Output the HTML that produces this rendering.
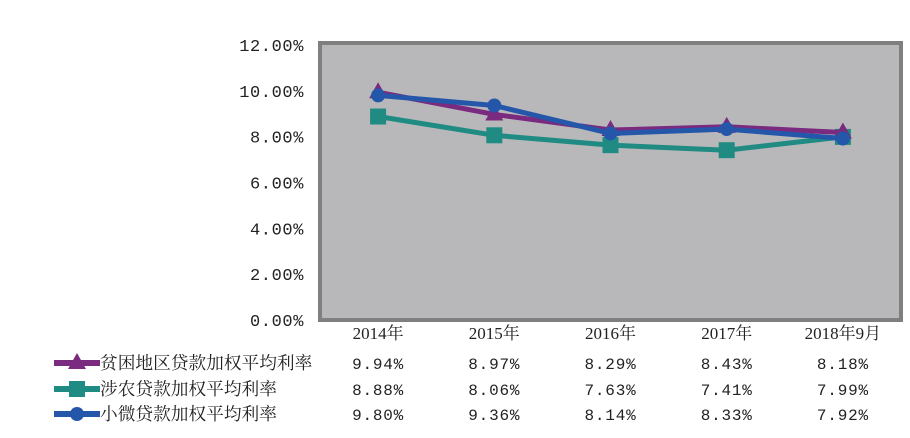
<!DOCTYPE html>
<html><head><meta charset="utf-8"><style>
body{margin:0;background:#fff;width:910px;height:433px;overflow:hidden}
svg text{font-family:"Liberation Serif","Noto Serif CJK SC",serif;fill:#222}
svg text.num{font-family:"Liberation Mono","Noto Serif CJK SC",monospace}
</style></head><body>
<svg width="910" height="433">
<g id="axis"></g><g id="plot"></g><g id="table"></g>
</svg>
<script>
const categories=["2014年","2015年","2016年","2017年","2018年9月"];
const seriesNames=["贫困地区贷款加权平均利率","涉农贷款加权平均利率","小微贷款加权平均利率"];
const poor=[9.94,8.97,8.29,8.43,8.18];
const agri=[8.88,8.06,7.63,7.41,7.99];
const small=[9.80,9.36,8.14,8.33,7.92];
const yTicks=[0,2,4,6,8,10,12];
const NS="http://www.w3.org/2000/svg";
const L=320,R=901,T=43,B=320;
const x=i=>L+(R-L)*(i+0.5)/categories.length;
const y=v=>B-(v/12)*(B-45);
function mk(tag,attrs,parent,txt){const e=document.createElementNS(NS,tag);for(const k in attrs)e.setAttribute(k,attrs[k]);if(txt!=null)e.textContent=txt;parent.appendChild(e);return e;}
const ax=document.getElementById('axis'),pl=document.getElementById('plot'),tb=document.getElementById('table');
const bg=mk('rect',{x:L,y:T,width:R-L,height:B-T,fill:'#b8b8bb',stroke:'#7f7f7f','stroke-width':4},ax);


yTicks.forEach(v=>{const t=mk('text',{x:304,y:y(v)+6,'text-anchor':'end','font-size':17,'class':'num','letter-spacing':0.6},ax,v.toFixed(2)+'%');

});
categories.forEach((c,i)=>{const t=mk('text',{x:x(i),y:339,'text-anchor':'middle','font-size':17},ax,c);

});
const colors=['#7a2a7f','#1f8b82','#2457aa'];
const data=[poor,agri,small];
function marker(k,cx,cy,g){
 if(k===0)return mk('polygon',{points:`${cx},${cy-10} ${cx-9},${cy+6} ${cx+9},${cy+6}`,fill:colors[0]},g);
 if(k===1)return mk('rect',{x:cx-8,y:cy-8,width:16,height:16,fill:colors[1]},g);
 return mk('circle',{cx:cx,cy:cy,r:7,fill:colors[2]},g);
}
[1,0,2].forEach(k=>{
 const g=mk('g',{},pl);
 
 
 const p=mk('polyline',{points:data[k].map((v,i)=>x(i)+','+y(v)).join(' '),fill:'none',stroke:colors[k],'stroke-width':5},g);
 
 
 data[k].forEach((v,i)=>{const m=marker(k,x(i),y(v),g);
 
 });
});
const rowY=[363,389,414];
[0,1,2].forEach(k=>{
 const g=mk('g',{},tb);
 
 
 mk('line',{x1:54,x2:100,y1:rowY[k],y2:rowY[k],stroke:colors[k],'stroke-width':6},g);
 marker(k,77,rowY[k],g);
 mk('text',{x:100,y:rowY[k]+6,'font-size':17.7},g,seriesNames[k]);
 data[k].forEach((v,i)=>{const t=mk('text',{x:x(i),y:rowY[k]+6,'text-anchor':'middle','font-size':16,'class':'num','letter-spacing':0.8},g,v.toFixed(2)+'%');
 
 });
});
</script>
</body></html>
